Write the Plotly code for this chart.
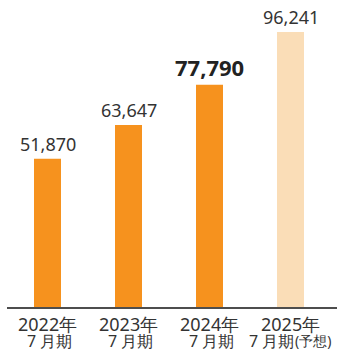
import plotly.graph_objects as go

# Net sales by fiscal year (fiscal year ending July), last year is a forecast
years = ["2022年", "2023年", "2024年", "2025年"]
periods = ["7 月期", "7 月期", "7 月期", "7 月期"]
period_notes = ["", "", "", "(予想)"]
values = [51870, 63647, 77790, 96241]
bar_colors = ["#F6921E", "#F6921E", "#F6921E", "#FADDB7"]
highlight = [False, False, True, False]

FONT = "Noto Sans, Lato, sans-serif"
TEXT = "#333333"

fig = go.Figure(
    go.Bar(
        x=list(range(len(values))),
        y=values,
        marker=dict(color=bar_colors, line=dict(width=0)),
        hoverinfo="skip",
    )
)

annotations = []
for i, v in enumerate(values):
    label = f"{v:,}"
    if highlight[i]:
        font = dict(family=FONT, size=22, color="#222222", weight="bold")
    else:
        font = dict(family=FONT, size=18, color=TEXT)
    annotations.append(dict(
        x=i, y=v, xref="x", yref="y", text=label, showarrow=False,
        xanchor="center", yanchor="bottom", yshift=1, font=font,
    ))
    # two-line category label under the axis
    annotations.append(dict(
        x=i, y=-0.056, xref="x", yref="paper", text=years[i], showarrow=False,
        xanchor="center", yanchor="middle", borderpad=0,
        font=dict(family=FONT, size=18, color=TEXT),
    ))
    note = period_notes[i]
    main_font = dict(family=FONT, size=16, color=TEXT)
    if note:
        # main text and the smaller note, placed side by side around the bar centre
        annotations.append(dict(
            x=i, y=-0.112, xref="x", yref="paper", text=periods[i], showarrow=False,
            xanchor="right", yanchor="middle", xshift=4, borderpad=0, font=main_font,
        ))
        annotations.append(dict(
            x=i, y=-0.112, xref="x", yref="paper", text=note, showarrow=False,
            xanchor="left", yanchor="middle", xshift=3, yshift=1, borderpad=0,
            font=dict(family=FONT, size=14, color=TEXT),
        ))
    else:
        annotations.append(dict(
            x=i, y=-0.112, xref="x", yref="paper", text=periods[i], showarrow=False,
            xanchor="center", yanchor="middle", xshift=2, borderpad=0, font=main_font,
        ))

fig.update_layout(
    width=337, height=350,
    margin=dict(l=7, r=0, t=0, b=43),
    paper_bgcolor="white", plot_bgcolor="white",
    bargap=2 / 3,
    showlegend=False,
    annotations=annotations,
    xaxis=dict(
        range=[-0.5, 3.574], showticklabels=False, showgrid=False, zeroline=False,
        showline=True, linecolor="#4D4D4D", linewidth=2, ticks="",
        fixedrange=True,
    ),
    yaxis=dict(
        range=[0, 107400], visible=False, showgrid=False, zeroline=False,
        fixedrange=True,
    ),
)

fig.write_html("out.html", config={"displayModeBar": False})
